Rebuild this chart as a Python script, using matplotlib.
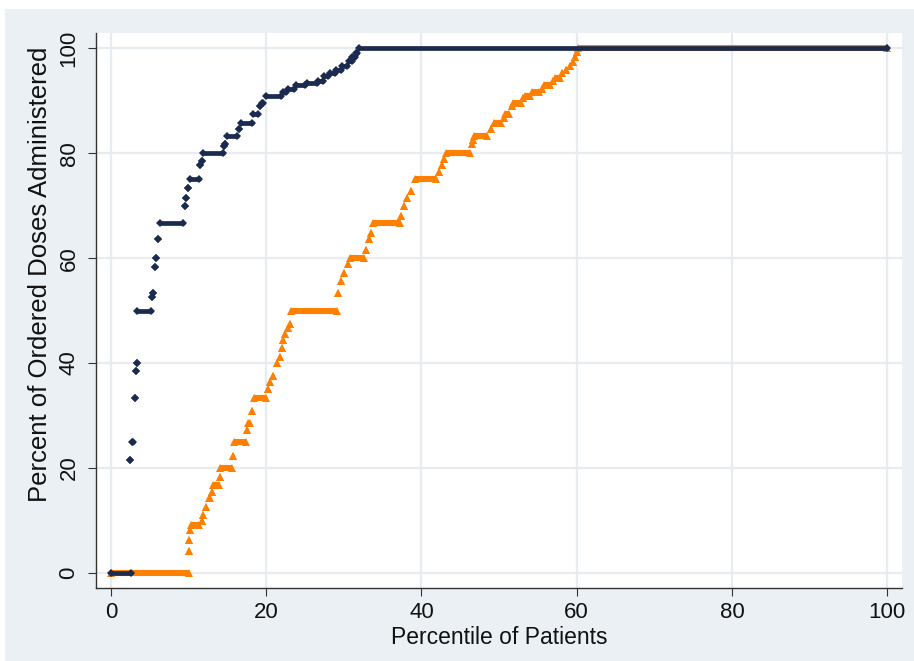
import matplotlib
matplotlib.use("Agg")
import matplotlib.pyplot as plt
from matplotlib.patches import Rectangle
import numpy as np

# Cumulative dose curves, read off the picture as flat runs:
# each run is (start percentile, end percentile, percent of doses)
NAVY_X0 = [0.0, 2.4, 2.7, 3.1, 3.2, 3.35, 3.4, 5.3, 5.45, 5.7, 5.85, 6.1,
           6.3, 9.5, 9.7, 9.9, 10.2, 11.5, 11.7, 11.9, 14.6, 14.7, 14.9,
           16.5, 16.7, 18.3, 19.2, 19.5, 20.0, 22.1, 22.8, 23.8, 25.2, 26.7,
           27.5, 28.2, 29.0, 29.8, 30.6, 31.1, 31.5, 31.9]
NAVY_X1 = [2.6, 2.4, 2.9, 3.1, 3.2, 3.35, 5.2, 5.3, 5.45, 5.7, 5.85, 6.1,
           9.3, 9.5, 9.7, 9.9, 11.4, 11.5, 11.7, 14.4, 14.6, 14.7, 16.2,
           16.5, 18.2, 18.9, 19.2, 19.6, 21.9, 22.6, 23.6, 25.0, 26.5, 27.3,
           28.0, 28.8, 29.6, 30.4, 31.0, 31.4, 31.7, 100.0]
NAVY_Y = [0.0, 21.5, 25.0, 33.3, 38.5, 40.0, 50.0, 52.6, 53.3, 58.3, 60.0,
          63.6, 66.7, 70.0, 71.4, 73.3, 75.0, 77.8, 78.6, 80.0, 81.3, 81.8,
          83.3, 84.6, 85.7, 87.5, 88.9, 89.5, 90.9, 91.7, 92.3, 92.9, 93.3,
          93.8, 94.7, 95.2, 95.8, 96.6, 97.5, 98.3, 99.0, 100.0]

ORANGE_X0 = [0.0, 10.05, 10.1, 10.2, 10.3, 11.7, 11.9, 12.2, 12.6, 13.0,
             13.2, 14.0, 14.1, 15.7, 15.9, 17.5, 17.7, 18.2, 18.4, 20.2, 20.5,
             20.9, 21.4, 21.8, 22.0, 22.2, 22.4, 22.8, 23.0, 23.2, 29.3, 29.6,
             30.0, 30.5, 30.8, 32.9, 33.3, 33.5, 33.8, 37.4, 37.7, 38.1, 38.6,
             39.1, 42.3, 42.6, 42.9, 43.2, 46.5, 46.6, 46.8, 49.0, 49.3, 50.6,
             50.8, 51.6, 51.8, 53.1, 53.3, 54.2, 55.5, 55.8, 56.9, 57.2, 58.1,
             58.6, 59.1, 59.5, 59.8, 60.0, 60.1]
ORANGE_X1 = [10.0, 10.05, 10.1, 10.2, 11.4, 11.7, 11.9, 12.3, 12.8, 13.0,
             13.9, 14.0, 15.6, 15.7, 17.4, 17.5, 17.9, 18.2, 20.0, 20.2, 20.5,
             20.9, 21.4, 21.8, 22.0, 22.2, 22.4, 22.8, 23.0, 29.1, 29.3, 29.6,
             30.0, 30.5, 32.6, 32.9, 33.3, 33.5, 37.2, 37.4, 37.7, 38.1, 38.6,
             41.9, 42.3, 42.6, 42.9, 46.3, 46.5, 46.6, 48.5, 49.0, 50.3, 50.6,
             51.3, 51.6, 52.8, 53.1, 54.0, 55.2, 55.5, 56.5, 56.9, 57.8, 58.1,
             58.6, 59.1, 59.5, 59.8, 60.0, 100.0]
ORANGE_Y = [0.0, 4.2, 6.3, 8.2, 9.1, 10.0, 11.1, 12.5, 14.3, 15.4, 16.7,
            18.2, 20.0, 22.2, 25.0, 27.3, 28.6, 30.8, 33.3, 35.0, 36.4, 37.5,
            40.0, 41.2, 42.9, 44.4, 45.5, 46.7, 47.4, 50.0, 53.3, 55.6, 57.1,
            58.8, 60.0, 61.5, 63.6, 64.7, 66.7, 68.0, 70.0, 71.4, 72.7, 75.0,
            76.5, 77.8, 78.9, 80.0, 81.8, 82.6, 83.3, 84.6, 85.7, 86.7, 87.5,
            88.9, 89.5, 90.5, 90.9, 91.7, 92.3, 92.9, 93.8, 94.4, 95.2, 95.8,
            96.6, 97.4, 98.3, 99.2, 100.0]

X_TICKS = [0, 20, 40, 60, 80, 100]
Y_TICKS = [0, 20, 40, 60, 80, 100]

NAVY = '#1b2a4f'
ORANGE = '#ff8000'
BG = '#eaf0f3'
GRID = '#e6ecf0'
AXIS = '#333333'
FONT = 'Liberation Sans'


def draw_runs(ax, x0, x1, y, color, lw, marker, ms, capstyle):
    """Draw flat runs as thick segments with markers at both ends."""
    runs = ax.hlines(y, x0, x1, colors=color, linewidth=lw, zorder=3)
    runs.set_capstyle(capstyle)
    ax.plot(np.r_[x0, x1], np.r_[y, y], ls='none', marker=marker,
            markersize=ms, color=color, markeredgewidth=0, zorder=3)


def main():
    fig = plt.figure(figsize=(9.14, 6.61), dpi=100)
    fig.patch.set_facecolor('white')
    fig.add_artist(Rectangle((5 / 914, 0), 1, 1 - 9 / 661,
                             transform=fig.transFigure, facecolor=BG,
                             edgecolor='none', zorder=-10))

    ax = fig.add_axes([96 / 914, 73 / 661, 806 / 914, 555 / 661])
    ax.set_facecolor('white')

    draw_runs(ax, ORANGE_X0, ORANGE_X1, ORANGE_Y, ORANGE, 4.4, '^', 5.6, 'butt')
    draw_runs(ax, NAVY_X0, NAVY_X1, NAVY_Y, NAVY, 3.4, 'D', 3.6, 'round')

    ax.set_xlim(-1.93, 101.9)
    ax.set_ylim(-2.86, 102.9)
    ax.set_xticks(X_TICKS)
    ax.set_yticks(Y_TICKS)
    ax.grid(True, color=GRID, linewidth=1.6, zorder=0)
    ax.set_axisbelow(True)

    for side in ('top', 'right'):
        ax.spines[side].set_visible(False)
    for side in ('left', 'bottom'):
        ax.spines[side].set_color(AXIS)
        ax.spines[side].set_linewidth(1.0)

    ax.tick_params(axis='both', direction='out', length=5.8, width=0.8,
                   color=AXIS, labelsize=16, labelcolor='#111111')
    ax.tick_params(axis='x', pad=4)
    ax.tick_params(axis='y', pad=6)
    for lbl in ax.get_xticklabels() + ax.get_yticklabels():
        lbl.set_fontfamily(FONT)
    for lbl in ax.get_yticklabels():
        lbl.set_rotation(90)
        lbl.set_va('center')

    ax.set_xlabel('Percentile of Patients', fontsize=16.5, family=FONT,
                  color='#111111')
    ax.set_ylabel('Percent of Ordered Doses Administered', fontsize=18.5,
                  family=FONT, color='#111111')
    ax.xaxis.set_label_coords(0.5, -0.068)
    ax.yaxis.set_label_coords(-0.0546, 0.565)

    fig.savefig('out.png', dpi=100, facecolor=fig.get_facecolor())


if __name__ == '__main__':
    main()
